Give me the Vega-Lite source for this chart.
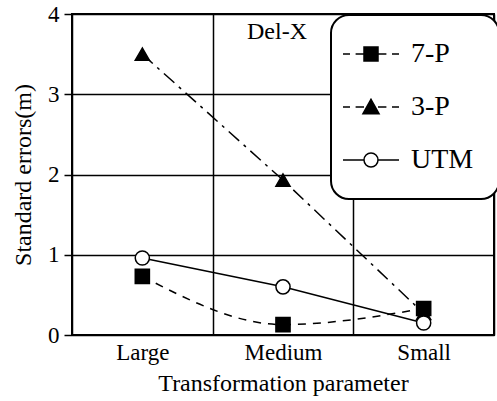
{
  "$schema": "https://vega.github.io/schema/vega-lite/v6.json",
  "width": 422,
  "height": 321,
  "autosize": {"type": "none"},
  "padding": {"left": 72, "top": 14, "right": 3, "bottom": 66},
  "background": "white",
  "title": {"text": "Del-X", "orient": "top", "anchor": "middle", "offset": -41, "dx": -6, "fontSize": 24, "font": "Liberation Serif", "fontWeight": "normal", "color": "black"},
  "config": {
    "font": "Liberation Serif",
    "view": {"stroke": "black", "strokeWidth": 2},
    "legend": {"strokeWidth": 2},
    "axis": {"gridColor": "black", "gridWidth": 1.5, "gridOpacity": 1, "domain": false, "labelColor": "black", "titleColor": "black", "labelFont": "Liberation Serif", "titleFont": "Liberation Serif", "titleFontWeight": "normal"}
  },
  "data": {
    "values": [
      {"param": "Large", "series": "7-P", "value": 0.73},
      {"param": "Medium", "series": "7-P", "value": 0.13},
      {"param": "Small", "series": "7-P", "value": 0.33},
      {"param": "Large", "series": "3-P", "value": 3.5},
      {"param": "Medium", "series": "3-P", "value": 1.93},
      {"param": "Small", "series": "3-P", "value": 0.27},
      {"param": "Large", "series": "UTM", "value": 0.96},
      {"param": "Medium", "series": "UTM", "value": 0.6},
      {"param": "Small", "series": "UTM", "value": 0.15}
    ]
  },
  "encoding": {
    "x": {
      "field": "param", "type": "nominal", "sort": ["Large", "Medium", "Small"],
      "scale": {"type": "band", "paddingInner": 0, "paddingOuter": 0},
      "axis": {"title": "Transformation parameter", "labelAngle": 0, "labelFontSize": 23, "titleFontSize": 24, "grid": true, "tickBand": "extent", "ticks": false, "labelPadding": 6, "titlePadding": 7}
    },
    "y": {
      "field": "value", "type": "quantitative",
      "scale": {"domain": [0, 4], "nice": false},
      "axis": {"title": "Standard errors(m)", "values": [0, 1, 2, 3, 4], "labelFontSize": 23, "titleFontSize": 24, "tickColor": "black", "tickWidth": 1.5, "tickSize": 8, "labelPadding": 5, "titlePadding": 12, "grid": true}
    }
  },
  "resolve": {"scale": {"shape": "independent", "fill": "independent"}},
  "layer": [
    {
      "transform": [{"filter": "datum.series === '7-P'"}],
      "mark": {"type": "line", "color": "black", "strokeWidth": 1.5, "strokeDash": [8, 7], "interpolate": "monotone"}
    },
    {
      "transform": [{"filter": "datum.series === '3-P'"}],
      "mark": {"type": "line", "color": "black", "strokeWidth": 1.5, "strokeDash": [14, 6, 3, 6]}
    },
    {
      "transform": [{"filter": "datum.series === 'UTM'"}],
      "mark": {"type": "line", "color": "black", "strokeWidth": 1.5}
    },
    {
      "transform": [{"filter": "datum.value < -100"}],
      "mark": {"type": "point", "filled": false, "stroke": "black", "strokeWidth": 1.5, "opacity": 1},
      "encoding": {
        "shape": {
          "field": "series", "type": "nominal",
          "scale": {"domain": ["7-P", "3-P", "UTM"], "range": [
            "M-4,0L-3,0M-2.2,0L-1,0M1,0L2.2,0M3,0L4,0M-1,-1L1,-1L1,1L-1,1Z",
            "M-4,0L-3,0M-2.2,0L-1,0M1,0L2.2,0M3,0L4,0M0,-1.1L1.15,0.95L-1.15,0.95Z",
            "M-4,0L-1,0M1,0L4,0M1,0A1,1 0 1,1 -1,0A1,1 0 1,1 1,0Z"
          ]},
          "legend": {
            "title": null, "orient": "none", "legendX": 259, "legendY": 1, "padding": 25,
            "fillColor": "white", "strokeColor": "black", "cornerRadius": 18,
            "labelFontSize": 28, "labelFont": "Liberation Serif", "labelColor": "black",
            "symbolSize": 196, "symbolOffset": 1, "labelOffset": 26, "rowPadding": 25,
            "symbolStrokeWidth": 1.5
          }
        },
        "fill": {
          "field": "series", "type": "nominal",
          "scale": {"domain": ["7-P", "3-P", "UTM"], "range": ["black", "black", "white"]},
          "legend": null
        }
      }
    },
    {
      "mark": {"type": "point", "filled": false, "stroke": "black", "strokeWidth": 1.5, "opacity": 1, "size": 200},
      "encoding": {
        "shape": {
          "field": "series", "type": "nominal",
          "scale": {"domain": ["7-P", "3-P", "UTM"], "range": ["square", "triangle-up", "circle"]},
          "legend": null
        },
        "fill": {
          "field": "series", "type": "nominal",
          "scale": {"domain": ["7-P", "3-P", "UTM"], "range": ["black", "black", "white"]},
          "legend": null
        }
      }
    }
  ]
}
